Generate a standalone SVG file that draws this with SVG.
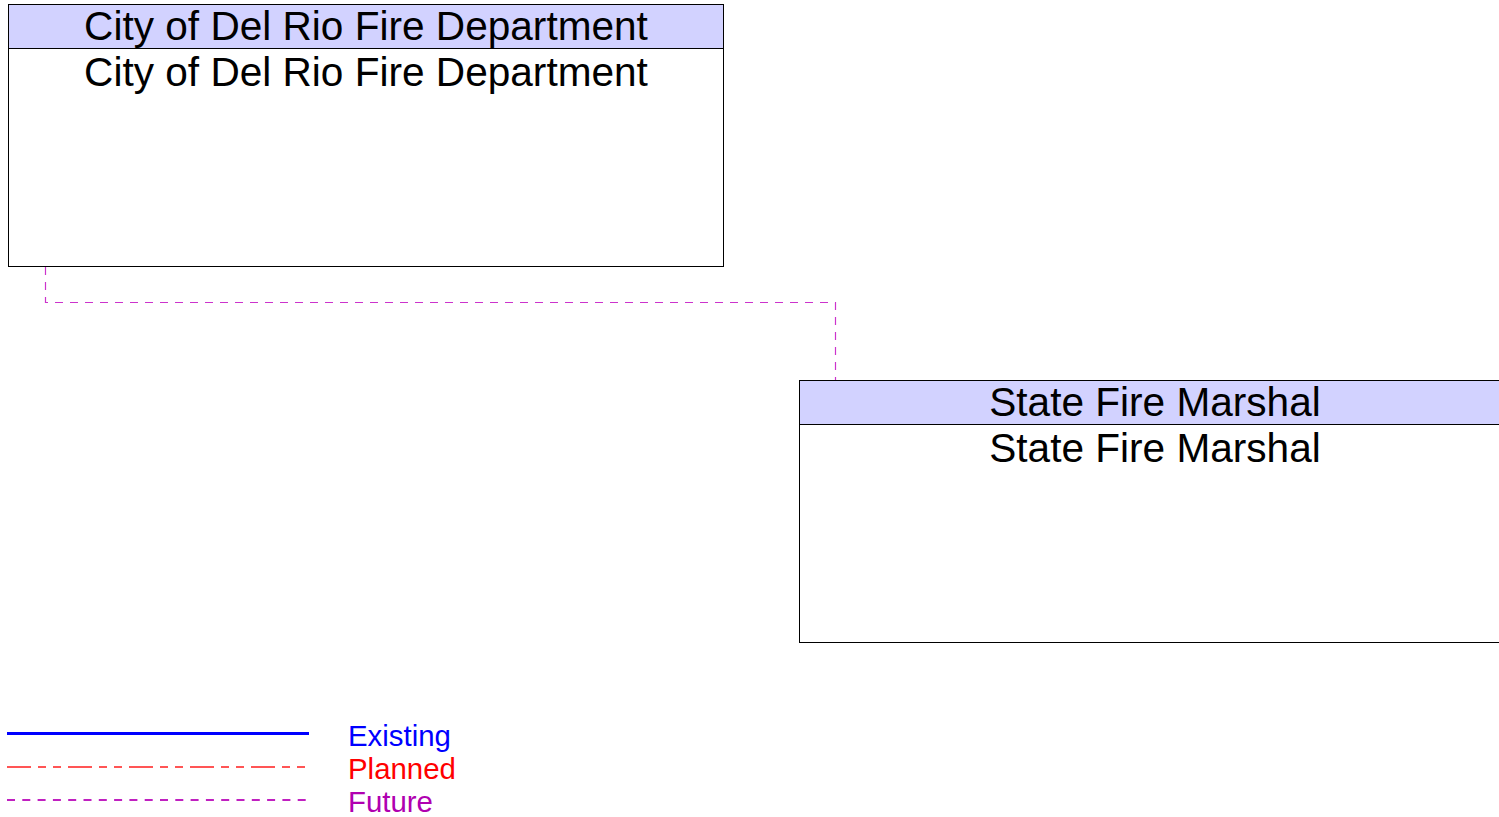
<svg xmlns="http://www.w3.org/2000/svg" width="1499" height="817" viewBox="0 0 1499 817">
<style>
.box{fill:#ffffff;stroke:#000000;stroke-width:1}
.hdr{fill:#d2d2ff;stroke:#000000;stroke-width:1}
.t{font-family:"Liberation Sans",Arial,sans-serif;font-size:40.6px;fill:#000000;text-anchor:middle}
.lg{font-family:"Liberation Sans",Arial,sans-serif;font-size:29.4px}
.future{fill:none;stroke:#cc33cc;stroke-width:1.2;stroke-dasharray:8,7}
</style>
<rect width="1499" height="817" fill="#ffffff"/>
<g id="connectors">
<polyline class="future" points="45.5,267 45.5,302.5 835.5,302.5 835.5,380"/>
</g>
<g id="node-del-rio">
<rect class="box" x="8.5" y="4.5" width="715" height="262"/>
<rect class="hdr" x="8.5" y="4.5" width="715" height="44"/>
<text class="t" x="366" y="40">City of Del Rio Fire Department</text>
<text class="t" x="366" y="86">City of Del Rio Fire Department</text>
</g>
<g id="node-state-fire-marshal">
<rect class="box" x="799.5" y="380.5" width="713" height="262"/>
<rect class="hdr" x="799.5" y="380.5" width="713" height="44"/>
<text class="t" x="1155" y="416">State Fire Marshal</text>
<text class="t" x="1155" y="462">State Fire Marshal</text>
</g>
<g id="legend">
<line x1="7" y1="733.5" x2="309" y2="733.5" stroke="#0000ff" stroke-width="3"/>
<line x1="7" y1="767" x2="309" y2="767" stroke="#ff5555" stroke-width="2" stroke-dasharray="24,7,8,7,8,7"/>
<line x1="7" y1="800" x2="309" y2="800" stroke="#c020c0" stroke-width="2" stroke-dasharray="8,7.3"/>
<text class="lg" x="348" y="746" fill="#0000ff">Existing</text>
<text class="lg" x="348" y="779" fill="#ff0000">Planned</text>
<text class="lg" x="348" y="812" fill="#b000b0">Future</text>
</g>
</svg>
